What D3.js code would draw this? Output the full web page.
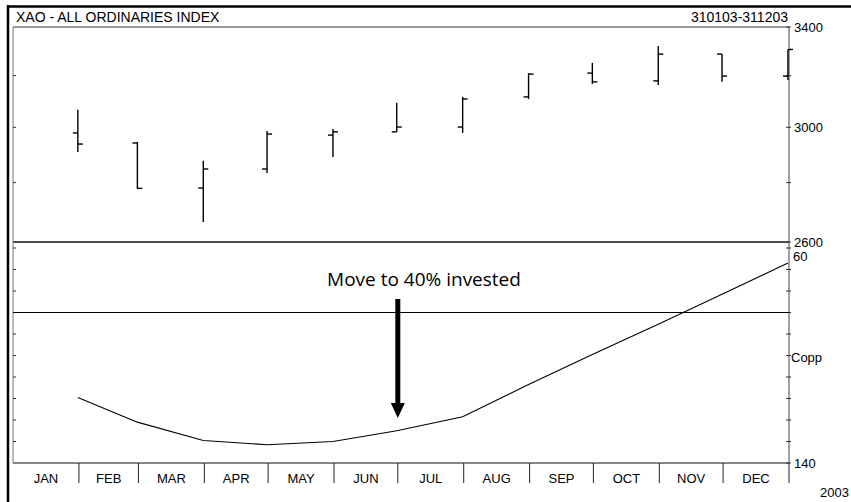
<!DOCTYPE html>
<html><head><meta charset="utf-8">
<script src="https://cdn.jsdelivr.net/npm/d3@7"></script>
<style>
body{margin:0;background:#fff}
svg{display:block}
text{font-family:"Liberation Sans",Arial,sans-serif;fill:#000}
</style>
</head><body>
<svg id="c" width="851" height="502"></svg>
<script>
// ---- data ----
const months = ["JAN","FEB","MAR","APR","MAY","JUN","JUL","AUG","SEP","OCT","NOV","DEC"];
const barDates = ["2003-01-31","2003-02-28","2003-03-31","2003-04-30","2003-05-31","2003-06-30",
                  "2003-07-31","2003-08-31","2003-09-30","2003-10-31","2003-11-30","2003-12-31"];
const openV  = [2979, 2942, 2781, 2848, 2971, 2983, 3001, 3116, 3210, 3179, 3287, 3198];
const highV  = [3066, 2946, 2877, 2986, 2994, 3093, 3116, 3210, 3251, 3320, 3287, 3306];
const lowV   = [2909, 2778, 2666, 2834, 2891, 2983, 2979, 3108, 3167, 3163, 3175, 3182];
const closeV = [2938, 2780, 2848, 2975, 2983, 3001, 3108, 3206, 3175, 3287, 3198, 3306];
const coppock = [-79, -102, -119, -123, -120, -110, -97, -67, -39, -11, 17, 46];
const priceTicks = [2600, 2800, 3000, 3200, 3400];
const priceLabels = [2600, 3000, 3400];
const coppTicks = [-140, -120, -100, -80, -60, -40, -20, 0, 20, 40, 60];
const title = "XAO - ALL ORDINARIES INDEX";
const dateRange = "310103-311203";
const yearLabel = "2003";
const annotation = "Move to 40% invested";

// ---- layout ----
const svg = d3.select("#c");
const L = 13, R = 789, T = 27, MID = 242, B = 463;
const x = d3.scaleUtc().domain([new Date("2003-01-01"), new Date("2004-01-01")]).range([L, R]);
const yP = d3.scaleLog().domain([2600, 3400]).range([MID, T]);
const yC = d3.scaleLinear().domain([-140, 60]).range([B, 248]);
const parse = d3.utcParse("%Y-%m-%d");
const dayW = x(new Date("2003-01-02")) - x(new Date("2003-01-01"));
const bx = d => x(parse(d)) + dayW / 2;

const bars = months.map((m, i) => ({m, d: barDates[i], o: openV[i], h: highV[i], l: lowV[i], c: closeV[i], cp: coppock[i]}));

// outer frame
svg.append("line").attr("x1", 8).attr("x2", 851).attr("y1", 6.5).attr("y2", 6.5).attr("stroke", "#000").attr("stroke-width", 2.5);
svg.append("line").attr("x1", 8).attr("x2", 8).attr("y1", 5).attr("y2", 502).attr("stroke", "#000").attr("stroke-width", 2.5);

// title texts
svg.append("text").attr("x", 16).attr("y", 22).attr("font-size", 14).text(title);
svg.append("text").attr("x", 788).attr("y", 22).attr("font-size", 14).attr("text-anchor", "end").text(dateRange);

// plot frame lines
svg.append("line").attr("x1", L).attr("x2", R).attr("y1", T).attr("y2", T).attr("stroke", "#333").attr("stroke-width", 1);
svg.append("line").attr("x1", L).attr("x2", R).attr("y1", MID).attr("y2", MID).attr("stroke", "#111").attr("stroke-width", 1.6);
svg.append("line").attr("x1", L).attr("x2", R).attr("y1", B).attr("y2", B).attr("stroke", "#111").attr("stroke-width", 1.2);
svg.append("line").attr("x1", L).attr("x2", L).attr("y1", T).attr("y2", B).attr("stroke", "#777").attr("stroke-width", 1);
svg.append("line").attr("x1", R).attr("x2", R).attr("y1", T).attr("y2", B).attr("stroke", "#444").attr("stroke-width", 1);

// left ticks
svg.selectAll(".lpt").data(priceTicks.slice(1, -1)).join("line")
  .attr("x1", L).attr("x2", L + 3).attr("y1", d => yP(d)).attr("y2", d => yP(d)).attr("stroke", "#333");
svg.selectAll(".lct").data(coppTicks.slice(1)).join("line")
  .attr("x1", L).attr("x2", L + 3).attr("y1", d => yC(d)).attr("y2", d => yC(d)).attr("stroke", "#333");
// right ticks
svg.selectAll(".rpt").data(priceTicks).join("line")
  .attr("x1", R - 3).attr("x2", R + 2).attr("y1", d => yP(d)).attr("y2", d => yP(d)).attr("stroke", "#333");
svg.selectAll(".rct").data(coppTicks).join("line")
  .attr("x1", R - 3).attr("x2", R + 2).attr("y1", d => yC(d)).attr("y2", d => yC(d)).attr("stroke", "#333");

// right labels
svg.selectAll(".rpl").data(priceLabels).join("text")
  .attr("x", R + 5).attr("y", d => yP(d) + 5).attr("font-size", 13).text(d => d);
svg.append("text").attr("x", R + 4).attr("y", yC(60) + 13).attr("font-size", 13).text(coppTicks[coppTicks.length - 1]);
svg.append("text").attr("x", R + 2).attr("y", yC(-40) + 6).attr("font-size", 13).text("Copp");
svg.append("text").attr("x", R + 5).attr("y", yC(-140) + 5).attr("font-size", 13).text(Math.abs(coppTicks[0]));
svg.append("text").attr("x", 820).attr("y", 497).attr("font-size", 13).text(yearLabel);

// month separators and labels
const monthStarts = d3.utcMonth.range(new Date("2003-02-01"), new Date("2004-01-02"));
svg.selectAll(".sep").data(monthStarts).join("line")
  .attr("x1", d => x(d)).attr("x2", d => x(d)).attr("y1", B).attr("y2", B + 20).attr("stroke", "#222");
const allStarts = d3.utcMonth.range(new Date("2003-01-01"), new Date("2004-01-01"));
svg.selectAll(".ml").data(allStarts).join("text")
  .attr("x", d => (x(d) + x(d3.utcMonth.offset(d, 1))) / 2).attr("y", 483)
  .attr("font-size", 13).attr("text-anchor", "middle").text((d, i) => months[i]);

// OHLC bars
const g = svg.append("g").attr("stroke", "#000").attr("stroke-width", 1.4);
bars.forEach(b => {
  const cx = bx(b.d);
  g.append("line").attr("x1", cx).attr("x2", cx).attr("y1", yP(b.h)).attr("y2", yP(b.l));
  g.append("line").attr("x1", cx - 5).attr("x2", cx).attr("y1", yP(b.o)).attr("y2", yP(b.o));
  g.append("line").attr("x1", cx).attr("x2", cx + 5).attr("y1", yP(b.c)).attr("y2", yP(b.c));
});

// zero line
svg.append("line").attr("x1", L).attr("x2", R).attr("y1", yC(0)).attr("y2", yC(0)).attr("stroke", "#000").attr("stroke-width", 1.2);

// coppock line
svg.append("path").datum(bars)
  .attr("d", d3.line().x(b => bx(b.d)).y(b => yC(b.cp)))
  .attr("fill", "none").attr("stroke", "#000").attr("stroke-width", 1.1);

// annotation
const ax = x(new Date("2003-07-01"));
svg.append("text").attr("x", 424).attr("y", 286).attr("font-size", 19)
  .attr("text-anchor", "middle").style("font-family", "'Open Sans','Noto Sans',sans-serif").text(annotation);
svg.append("line").attr("x1", ax).attr("x2", ax).attr("y1", 299).attr("y2", 404).attr("stroke", "#000").attr("stroke-width", 5);
svg.append("path").attr("d", `M${ax - 7},403L${ax + 7},403L${ax},418Z`).attr("fill", "#000");
</script>
</body></html>
